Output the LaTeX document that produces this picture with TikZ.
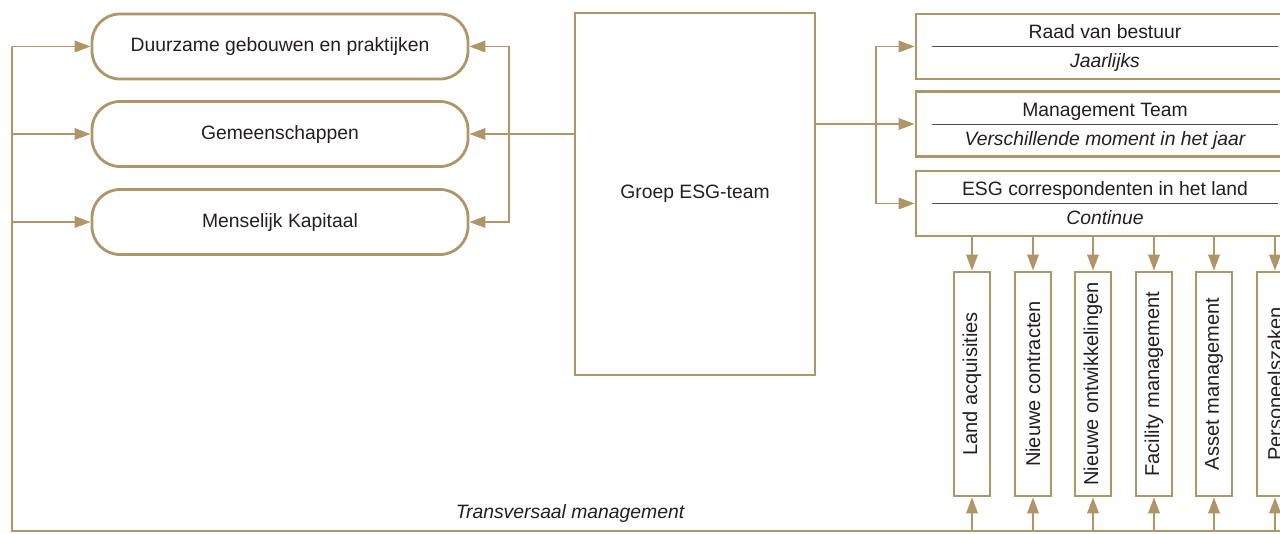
\documentclass[tikz,border=0pt]{standalone}
\usepackage{fontspec}
\setmainfont{Liberation Sans}
\usetikzlibrary{arrows.meta,positioning}
\definecolor{goud}{RGB}{175,150,104}
\definecolor{tekst}{RGB}{35,31,32}
\begin{document}
\begin{tikzpicture}[x=0.2mm,y=-0.2mm,
        font=\fontsize{11}{13}\selectfont, text=tekst,
        lijn/.style={draw=goud,line width=1.1pt},
        pijl/.style={lijn,-{Triangle[length=0.32cm,width=0.23cm]}},
        pil/.style={draw=goud,line width=1.6pt,rounded corners=0.56cm,minimum width=7.52cm,minimum height=1.3cm},
        vak/.style={draw=goud,line width=1.6pt,minimum width=7.56cm,minimum height=1.3cm},
        staand/.style={draw=goud,line width=1.6pt,minimum width=0.72cm,minimum height=4.48cm},
        scheid/.style={draw=tekst!80,line width=0.5pt},
        regel/.style={inner sep=0pt,text height=1.5ex,text depth=0pt},
        schuin/.style={font=\fontsize{11}{13}\selectfont\itshape}]
        \useasboundingbox (0,0) rectangle (1280,533);
        \node [pil] (dgp) at (280,46.5) {Duurzame gebouwen en praktijken};
        \node [pil] (gem) at (280,134) {Gemeenschappen};
        \node [pil] (mk) at (280,222) {Menselijk Kapitaal};
        \node [draw=goud,line width=1.6pt,minimum width=4.8cm,minimum height=7.24cm] (esg) at (695,194) {Groep ESG-team};
        \node [vak] (rvb) at (1105,46.5) {};
        \node [vak] (mt) at (1105,124) {};
        \node [vak] (esgc) at (1105,203.5) {};
        \foreach \b/\t/\s in {rvb/Raad van bestuur/Jaarlijks,mt/Management Team/Verschillende moment in het jaar,esgc/ESG correspondenten in het land/Continue}{
            \draw [scheid] ([xshift=0.34cm]\b.west) -- ([xshift=-0.34cm]\b.east);
            \node [regel] (\b-t) at ([yshift=0.29cm]\b.center) {\t};
            \node [regel,schuin] (\b-s) at ([yshift=-0.29cm]\b.center) {\s};
        }
        \coordinate (lb) at (12,46.5);
        \coordinate (lo) at (12,531);
        \coordinate (ro) at (1290,531);
        \coordinate (ls) at (509,134);
        \coordinate (rs) at (876,124);
        \draw [lijn] (lb) -- (lo) -- (ro);
        \draw [pijl] (lb) -- (dgp.west);
        \draw [pijl] (lb |- gem.west) -- (gem.west);
        \draw [pijl] (lb |- mk.west) -- (mk.west);
        \draw [lijn] (esg.west |- ls) -- (ls);
        \draw [pijl] (ls) -- (gem.east);
        \draw [pijl] (ls) |- (dgp.east);
        \draw [pijl] (ls) |- (mk.east);
        \draw [lijn] (esg.east |- rs) -- (rs);
        \draw [pijl] (rs) -- (mt.west);
        \draw [pijl] (rs) |- (rvb.west);
        \draw [pijl] (rs) |- (esgc.west);
        \foreach \i/\x/\t in {1/972/Land acquisities,2/1033/Nieuwe contracten,3/1093/Nieuwe ontwikkelingen,4/1154/Facility management,5/1214/Asset management,6/1275/Personeelszaken}{
            \node [staand] (d\i) at (\x,384) {};
            \node [rotate=90,font=\fontsize{11.4}{13}\selectfont] (d\i-t) at (d\i) {\t};
            \draw [pijl] (d\i.north |- esgc.south) -- (d\i.north);
            \draw [pijl] (d\i.south |- lo) -- (d\i.south);
        }
        \node [schuin] (tm) at (570,513) {Transversaal management};
\end{tikzpicture}
\end{document}
